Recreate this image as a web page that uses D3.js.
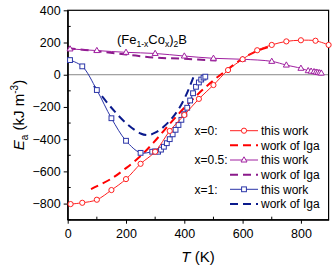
<!doctype html>
<html lang="en">
<head>
<meta charset="utf-8">
<title>Ea vs T</title>
<style>
  body { margin: 0; background: #fff; }
  svg { font-family: "Liberation Sans", Arial, sans-serif; }
</style>
</head>
<body>
<div id="chart"></div>
<script src="https://d3js.org/d3.v7.min.js"></script>
<script>
// x=0, this work (circles)
var fe_T  = [10, 50, 100, 150, 200, 250, 300, 350, 400, 450, 500, 550, 600, 650, 700, 750, 800, 850, 895];
var fe_Ea = [-803, -795, -776, -716, -648, -553, -478, -349, -250, -150, -64, 29, 96, 152, 185, 207, 214, 211, 185];
// x=0, work of Iga
var feIga_T  = [80, 150, 200, 250, 300, 350, 400, 450, 500, 550, 600, 650, 700];
var feIga_Ea = [-710, -645, -580, -505, -410, -305, -205, -115, -35, 35, 100, 148, 178];
// x=0.5, this work (triangles)
var mix_T  = [8, 100, 200, 300, 400, 500, 600, 700, 750, 800, 825, 835, 845, 852, 858, 864, 870];
var mix_Ea = [160, 150, 139, 132, 116, 102, 96, 83, 60, 40, 25, 22, 19, 16, 14, 12, 10];
// x=0.5, work of Iga
var mixIga_T  = [0, 100, 200, 300, 400, 510];
var mixIga_Ea = [165, 146, 126, 106, 99, 88];
// x=1, this work (squares)
var co_T  = [8, 50, 100, 150, 200, 250, 290, 300, 310, 320, 330, 340, 350, 360, 370, 380, 390, 400, 410, 420, 430, 440, 450, 458, 466, 472];
var co_Ea = [91, 52, -95, -270, -410, -485, -478, -476, -478, -465, -447, -425, -400, -370, -342, -312, -280, -245, -205, -160, -115, -75, -48, -30, -18, -12];
// x=1, work of Iga
var coIga_T  = [90, 150, 200, 250, 275, 300, 330, 360, 380, 400, 415, 428, 437];
var coIga_Ea = [-70, -205, -300, -365, -375, -360, -322, -265, -215, -150, -90, -30, 10];

var xTicks = [0, 200, 400, 600, 800];
var yTicks = [-800, -600, -400, -200, 0, 200, 400];

var W = 334, H = 269;
var svg = d3.select("#chart").append("svg").attr("width", W).attr("height", H);

var x = d3.scaleLinear().domain([0, 895]).range([67.7, 328.6]);
var y = d3.scaleLinear().domain([-900, 400]).range([219.7, 10.3]);

function zip(a, b) { return a.map(function(v, i) { return [v, b[i]]; }); }

// zero line
svg.append("line")
  .attr("x1", x(0)).attr("x2", x(895))
  .attr("y1", y(0)).attr("y2", y(0))
  .attr("stroke", "#888").attr("stroke-width", 1);

// frame
svg.append("rect")
  .attr("x", x(0)).attr("y", y(400))
  .attr("width", x(895) - x(0)).attr("height", y(-900) - y(400))
  .attr("fill", "none").attr("stroke", "#000").attr("stroke-width", 1.2);

// axes
var xAxis = d3.axisBottom(x).tickValues(xTicks).tickSize(4).tickSizeOuter(0);
var gx = svg.append("g").attr("transform", "translate(0," + y(-900) + ")").call(xAxis);
gx.append("g").selectAll("line").data(d3.range(100, 900, 200)).enter().append("line")
  .attr("x1", function(d) { return x(d); }).attr("x2", function(d) { return x(d); })
  .attr("y1", 0).attr("y2", -3).attr("stroke", "#000");

var yAxis = d3.axisLeft(y).tickValues(yTicks).tickSize(4).tickSizeOuter(0);
var gy = svg.append("g").attr("transform", "translate(" + x(0) + ",0)").call(yAxis);
gy.append("g").selectAll("line").data(d3.range(-900, 400, 200)).enter().append("line")
  .attr("y1", function(d) { return y(d); }).attr("y2", function(d) { return y(d); })
  .attr("x1", 0).attr("x2", 3).attr("stroke", "#000");

[gx, gy].forEach(function(g) {
  g.select(".domain").attr("stroke-width", 1.2);
  g.selectAll("text").attr("font-size", 12.5).attr("font-family", "Liberation Sans, Arial, sans-serif").attr("fill", "#000");
});
gx.selectAll(".tick text").attr("dy", "0.9em");

var line = d3.line().x(function(d) { return x(d[0]); }).y(function(d) { return y(d[1]); }).curve(d3.curveCatmullRom);

var series = [
  { pts: zip(feIga_T, feIga_Ea), color: "#ff0000", dash: true },
  { pts: zip(mixIga_T, mixIga_Ea), color: "#8b1a8b", dash: true },
  { pts: zip(coIga_T, coIga_Ea), color: "#0a1a8c", dash: true },
  { pts: zip(mix_T, mix_Ea), color: "#a020a0", marker: "triangle" },
  { pts: zip(co_T, co_Ea), color: "#2b35a8", marker: "square" },
  { pts: zip(fe_T, fe_Ea), color: "#ff2020", marker: "circle" }
];

function drawMarker(g, type, cx, cy, color) {
  if (type === "circle") {
    g.append("circle").attr("cx", cx).attr("cy", cy).attr("r", 2.6)
      .attr("fill", "#fff").attr("stroke", color).attr("stroke-width", 1);
  } else if (type === "square") {
    g.append("rect").attr("x", cx - 2.4).attr("y", cy - 2.4).attr("width", 4.8).attr("height", 4.8)
      .attr("fill", "#fff").attr("stroke", color).attr("stroke-width", 1);
  } else {
    g.append("path").attr("d", "M" + cx + "," + (cy - 3.2) + "L" + (cx + 3) + "," + (cy + 2) + "L" + (cx - 3) + "," + (cy + 2) + "Z")
      .attr("fill", "#fff").attr("stroke", color).attr("stroke-width", 1);
  }
}

series.forEach(function(s) {
  svg.append("path").attr("d", line(s.pts)).attr("fill", "none")
    .attr("stroke", s.color).attr("stroke-width", s.dash ? 2 : 1)
    .attr("stroke-dasharray", s.dash ? "8,5" : null);
  if (s.marker) {
    var g = svg.append("g");
    s.pts.forEach(function(p) { drawMarker(g, s.marker, x(p[0]), y(p[1]), s.color); });
  }
});

// title
var title = svg.append("text").attr("x", 117).attr("y", 44).attr("font-size", 13).attr("fill", "#000");
title.append("tspan").text("(Fe");
title.append("tspan").attr("font-size", 8.5).attr("dy", 3).text("1-x");
title.append("tspan").attr("dy", -3).text("Co");
title.append("tspan").attr("font-size", 8.5).attr("dy", 3).text("x");
title.append("tspan").attr("dy", -3).text(")");
title.append("tspan").attr("font-size", 8.5).attr("dy", 3).text("2");
title.append("tspan").attr("dy", -3).text("B");

// legend
var legRows = [
  { lab: "x=0:", txt: "this work", color: "#ff2020", marker: "circle" },
  { lab: "", txt: "work of Iga", color: "#ff0000", dash: true },
  { lab: "x=0.5:", txt: "this work", color: "#a020a0", marker: "triangle" },
  { lab: "", txt: "work of Iga", color: "#8b1a8b", dash: true },
  { lab: "x=1:", txt: "this work", color: "#2b35a8", marker: "square" },
  { lab: "", txt: "work of Iga", color: "#0a1a8c", dash: true }
];
var leg = svg.append("g");
legRows.forEach(function(r, i) {
  var yy = 130.7 + i * 14.65;
  if (r.lab) leg.append("text").attr("x", 194.5).attr("y", yy + 4.2).attr("font-size", 12).text(r.lab);
  leg.append("line").attr("x1", 230).attr("x2", 258).attr("y1", yy).attr("y2", yy)
    .attr("stroke", r.color).attr("stroke-width", r.dash ? 2 : 1)
    .attr("stroke-dasharray", r.dash ? "8,5" : null);
  if (r.marker) drawMarker(leg, r.marker, 244, yy, r.color);
  leg.append("text").attr("x", 261).attr("y", yy + 4.2).attr("font-size", 12).text(r.txt);
});

// axis labels
var yl = svg.append("text").attr("transform", "translate(24,115) rotate(-90)")
  .attr("text-anchor", "middle").attr("font-size", 15);
yl.append("tspan").attr("font-style", "italic").text("E");
yl.append("tspan").attr("font-size", 10).attr("dy", 4).text("a");
yl.append("tspan").attr("dy", -4).text(" (kJ m");
yl.append("tspan").attr("font-size", 10).attr("dy", -6).text("-3");
yl.append("tspan").attr("dy", 6).text(")");

var xl = svg.append("text").attr("x", 198).attr("y", 262).attr("text-anchor", "middle").attr("font-size", 15);
xl.append("tspan").attr("font-style", "italic").text("T");
xl.append("tspan").text(" (K)");
</script>
</body>
</html>
